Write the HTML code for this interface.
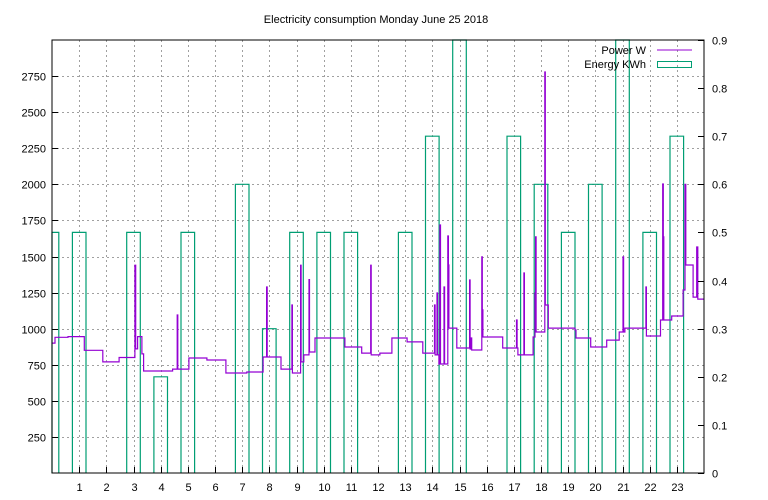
<!DOCTYPE html>
<html><head><meta charset="utf-8"><style>
body{margin:0;background:#fff}
svg{display:block;font-family:"Liberation Sans",sans-serif;font-size:11px}
</style></head><body>
<svg id="c" width="768" height="500">
<text x="376" y="23" text-anchor="middle">Electricity consumption Monday June 25 2018</text>
<g id="grid"></g>
<g id="energy"></g>
<g id="power"></g>
<g id="axes"></g>
<rect x="52" y="40" width="652" height="433" fill="none" stroke="#000"/>
<g>
<text x="646" y="54" text-anchor="end">Power W</text>
<line x1="657" y1="50" x2="692" y2="50" stroke="#9400d3"/>
<text x="646" y="68" text-anchor="end">Energy KWh</text>
<rect x="657.5" y="61.5" width="34" height="6" fill="none" stroke="#009e73"/>
</g>
</svg>
<script>
const hours=[0,1,2,3,4,5,6,7,8,9,10,11,12,13,14,15,16,17,18,19,20,21,22,23];
const energyKWh=[0.5,0.5,0,0.5,0.2,0.5,0,0.6,0.3,0.5,0.5,0.5,0,0.5,0.7,0.9,0,0.7,0.6,0.5,0.6,0.9,0.5,0.7];
const powerTimes=[0,0.11,0.59,1.19,1.87,2.47,3.05,3.08,3.15,3.31,3.37,4.44,4.61,4.63,5.04,5.70,6.40,7.17,7.77,7.90,7.92,8.43,8.83,8.85,9.15,9.17,9.27,9.46,9.48,9.68,10.78,11.40,11.73,11.75,12.07,12.51,13.07,13.65,14.08,14.10,14.17,14.19,14.24,14.28,14.30,14.43,14.45,14.57,14.59,14.61,14.90,15.37,15.39,15.42,15.45,15.82,15.84,15.86,16.59,17.10,17.12,17.15,17.37,17.39,17.71,17.78,17.80,17.82,18.14,18.16,18.27,19.25,19.29,19.83,20.42,20.88,21.02,21.04,21.09,21.86,21.88,22.40,22.48,22.50,22.52,22.81,23.23,23.30,23.33,23.60,23.73,23.77,24];
const powerWatts=[900,940,945,850,770,800,1440,860,945,825,707,720,1095,720,797,783,693,700,804,1289,804,720,1164,693,1440,770,818,1340,838,935,873,831,1440,818,831,935,908,831,1164,818,1247,818,755,1718,755,1289,755,1642,1441,1004,866,1337,859,935,852,1497,1130,942,866,1060,866,818,1386,818,942,1247,1636,977,2778,1164,1004,991,935,873,921,977,1497,977,1004,1289,949,1060,2002,1636,1060,1088,1268,2000,1441,1219,1566,1205,1205];
const xTicks=[1,2,3,4,5,6,7,8,9,10,11,12,13,14,15,16,17,18,19,20,21,22,23];
const yTicks=[250,500,750,1000,1250,1500,1750,2000,2250,2500,2750];
const y2Ticks=[0,0.1,0.2,0.3,0.4,0.5,0.6,0.7,0.8,0.9];
const X0=52,X1=704,Y0=473,Y1=40;
const xs=h=>X0+(h/24)*(X1-X0);
const ys=w=>Y0-(w/3000)*(Y0-Y1);
const ys2=e=>Y0-(e/0.9)*(Y0-Y1);
const NS="http://www.w3.org/2000/svg";
function mk(t,a,p){const e=document.createElementNS(NS,t);for(const k in a)e.setAttribute(k,a[k]);p.appendChild(e);return e;}
const grid=document.getElementById('grid'),axes=document.getElementById('axes');
xTicks.forEach(h=>{const x=Math.round(xs(h))+0.5;
 const g=mk('line',{x1:x,y1:Y1,x2:x,y2:Y0,stroke:'#a0a0a0','stroke-dasharray':'2,3'},grid);
 
 
 const t=mk('line',{x1:x,y1:Y0,x2:x,y2:Y0-6,stroke:'#000'},axes);
 
 
 const l=mk('text',{x:x,y:491,'text-anchor':'middle'},axes);l.textContent=h;
 
 });
yTicks.forEach(v=>{const y=Math.round(ys(v))+0.5;
 const g=mk('line',{x1:X0,y1:y,x2:X1,y2:y,stroke:'#a0a0a0','stroke-dasharray':'2,3'},grid);
 
 
 const t=mk('line',{x1:X0,y1:y,x2:X0+6,y2:y,stroke:'#000'},axes);
 
 
 const l=mk('text',{x:46,y:y+4,'text-anchor':'end'},axes);l.textContent=v;
 
 });
y2Ticks.forEach(v=>{const y=Math.round(ys2(v))+0.5;
 const t=mk('line',{x1:X1,y1:y,x2:X1-6,y2:y,stroke:'#000'},axes);
 
 
 const l=mk('text',{x:712,y:y+4},axes);l.textContent=v;
 
 });
const en=document.getElementById('energy');
hours.forEach((h,i)=>{if(energyKWh[i]<=0)return;
 let a=Math.max(X0,xs(h-0.25)),b=xs(h+0.25),top=Math.max(Y1,ys2(energyKWh[i]));
 const r=mk('path',{d:`M${a.toFixed(1)},${Y0}V${top.toFixed(1)}H${b.toFixed(1)}V${Y0}`,fill:'none',stroke:'#009e73','stroke-width':1.2},en);
 
 });
let d='M'+xs(powerTimes[0]).toFixed(1)+','+ys(powerWatts[0]).toFixed(1);
for(let i=1;i<powerTimes.length;i++){d+='H'+xs(powerTimes[i]).toFixed(1)+'V'+ys(powerWatts[i]).toFixed(1);}
const p=mk('path',{d:d,fill:'none',stroke:'#9400d3','stroke-width':1.2},document.getElementById('power'));


</script>
</body></html>
